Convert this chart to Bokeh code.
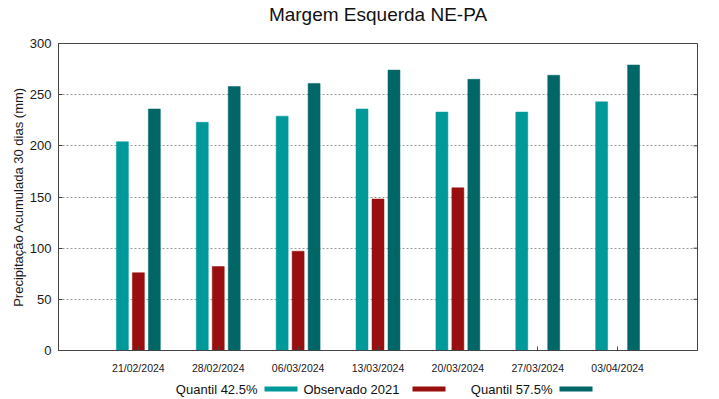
from bokeh.plotting import figure
from bokeh.models import ColumnDataSource, FixedTicker, Range1d
from bokeh.core.properties import value
from bokeh.layouts import column
from bokeh.embed import file_html
from bokeh.resources import INLINE

title_text = "Margem Esquerda NE-PA"
dates = ["21/02/2024", "28/02/2024", "06/03/2024", "13/03/2024",
         "20/03/2024", "27/03/2024", "03/04/2024"]
q425 = [204, 223, 229, 236, 233, 233, 243]
obs2021 = [76, 82, 97, 148, 159, None, None]
q575 = [236, 258, 261, 274, 265, 269, 279]
y_ticks = [0, 50, 100, 150, 200, 250, 300]

series_names = ["Quantil 42.5%", "Observado 2021", "Quantil 57.5%"]
colors = ["#009999", "#990f0f", "#006666"]

FONT = "Liberation Sans"
AX = "#444444"
TXT = "#1a1a1a"

W = 719
H_TITLE, H_MAIN, H_LEG = 33, 343, 23
BORDER_L, BORDER_R = 58, 22


def strip(h):
    # pixel-space strip; the column layout aligns its frame with the chart's
    f = figure(width=W, height=h, output_backend="svg", toolbar_location=None,
               x_range=Range1d(BORDER_L, W - BORDER_R), y_range=Range1d(0, h),
               min_border_left=BORDER_L, min_border_right=BORDER_R,
               min_border_top=0, min_border_bottom=0, outline_line_color=None)
    f.axis.visible = False
    f.grid.visible = False
    return f


# title strip
tfig = strip(H_TITLE)
tfig.text(x=[(BORDER_L + W - BORDER_R) / 2], y=[H_TITLE - 14], text=[title_text],
          text_font=value(FONT), text_font_size="19px", text_color="#111111",
          text_align="center", text_baseline="middle")

# main chart
p = figure(width=W, height=H_MAIN, output_backend="svg", toolbar_location=None,
           x_range=Range1d(0, len(dates) + 1), y_range=Range1d(0, 300),
           min_border_left=BORDER_L, min_border_right=BORDER_R,
           min_border_top=10, min_border_bottom=26)

xs = list(range(1, len(dates) + 1))
offsets = [-0.2, 0.0, 0.2]
for vals, off, col in zip([q425, obs2021, q575], offsets, colors):
    xx = [x + off for x, v in zip(xs, vals) if v is not None]
    yy = [v for v in vals if v is not None]
    src = ColumnDataSource(dict(x=xx, top=yy))
    p.vbar(x="x", top="top", bottom=0, width=0.15, source=src,
           fill_color=col, line_color=col, line_width=0.5)

p.xaxis.ticker = FixedTicker(ticks=xs)
p.xaxis.major_label_overrides = {x: d for x, d in zip(xs, dates)}
p.xaxis.major_label_text_font = FONT
p.xaxis.major_label_text_font_size = "10.5px"
p.xaxis.major_label_text_color = TXT
p.xaxis.major_label_standoff = 11
p.xaxis.major_tick_in = 4
p.xaxis.major_tick_out = 0
p.xaxis.minor_tick_line_color = None
p.xaxis.axis_line_color = AX
p.xaxis.major_tick_line_color = AX

p.yaxis.ticker = FixedTicker(ticks=y_ticks)
p.yaxis.axis_label = "Precipitação Acumulada 30 dias (mm)"
p.yaxis.axis_label_text_font = FONT
p.yaxis.axis_label_text_font_size = "13px"
p.yaxis.axis_label_text_font_style = "normal"
p.yaxis.axis_label_text_color = TXT
p.yaxis.axis_label_standoff = 1
p.yaxis.major_label_text_font = FONT
p.yaxis.major_label_text_font_size = "13px"
p.yaxis.major_label_text_color = TXT
p.yaxis.major_label_standoff = 7
p.yaxis.major_tick_in = 4
p.yaxis.major_tick_out = 0
p.yaxis.minor_tick_line_color = None
p.yaxis.axis_line_color = AX
p.yaxis.major_tick_line_color = AX

# mirrored inward ticks on the right frame edge
x_end = len(dates) + 1
p.segment(x0=[x_end] * len(y_ticks), x1=[x_end - 0.05] * len(y_ticks),
          y0=y_ticks, y1=y_ticks, line_color=AX, line_width=1)

p.outline_line_color = AX
p.xgrid.grid_line_color = None
p.ygrid.grid_line_color = "#999999"
p.ygrid.grid_line_dash = "2 2"
p.ygrid.ticker = FixedTicker(ticks=y_ticks[1:-1])

# legend strip (label to the left of its swatch)
leg_text_right = [257, 399, 552]
leg_sw_left = [264, 412, 559]
leg_sw_w = 33
leg = strip(H_LEG)
yc = 10.5
leg.text(x=leg_text_right, y=[yc] * 3, text=series_names,
         text_font=value(FONT), text_font_size="13px", text_color="#111111",
         text_align="right", text_baseline="middle")
leg.quad(left=leg_sw_left, right=[l + leg_sw_w for l in leg_sw_left],
         bottom=[yc - 2.5] * 3, top=[yc + 2.5] * 3,
         fill_color=colors, line_color=None)

layout = column(tfig, p, leg, spacing=0)
open("out.html", "w").write(file_html(layout, INLINE))
